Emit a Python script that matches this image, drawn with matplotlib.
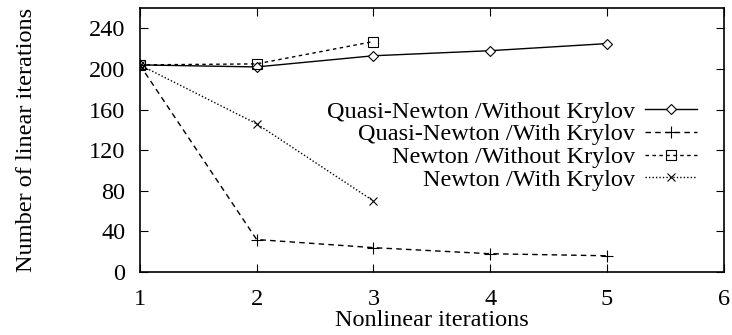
import matplotlib
matplotlib.use('Agg')
import matplotlib.pyplot as plt

plt.rcParams['font.family'] = ['Liberation Serif', 'DejaVu Serif']

iteracje = [1, 2, 3, 4, 5]
qn_bez = [204, 202, 213, 218, 225]
qn_z = [204, 32, 24, 18, 16]
n_bez = [204, 205, 227]
n_z = [204, 146, 70]

fs = 17.5

fig = plt.figure(figsize=(7.32, 3.35), dpi=100)
ax = fig.add_axes([0.191, 0.188, 0.798, 0.788])

ax.plot(iteracje, qn_bez, color='black', lw=1.0, ls='-', marker='D',
        mfc='white', mec='black', ms=5, mew=0.8,
        label='Quasi-Newton /Without Krylov')
ax.plot(iteracje, qn_z, color='black', lw=1.0, ls=(0, (4, 3)), marker='+',
        ms=8, mew=0.8, label='Quasi-Newton /With Krylov')
ax.plot(iteracje[:3], n_bez, color='black', lw=1.0, ls=(0, (2.5, 2.5)),
        marker='s', mfc='none', mec='black', ms=7, mew=0.8,
        label='Newton /Without Krylov')
ax.plot(iteracje[:3], n_z, color='black', lw=1.0, ls=(0, (1, 1.5)),
        marker='x', ms=6, mew=0.8, label='Newton /With Krylov')

ax.set_xlim(1, 6)
ax.set_ylim(0, 260)
ax.set_xticks([1, 2, 3, 4, 5, 6])
ax.set_yticks([0, 40, 80, 120, 160, 200, 240])
ax.tick_params(direction='in', top=True, right=True, labelsize=fs,
               length=6, width=0.8)
ax.tick_params(axis='x', pad=12)
ax.tick_params(axis='y', pad=10.5)
for s in ax.spines.values():
    s.set_linewidth(1.2)

ax.set_xlabel('Nonlinear iterations', fontsize=fs, labelpad=0)
ax.set_ylabel('Number of linear iterations', fontsize=fs, labelpad=37.5)

leg = ax.legend(loc='upper right', bbox_to_anchor=(0.975, 0.695),
                frameon=False, markerfirst=False, fontsize=fs,
                handlelength=2.15, handletextpad=0.4, labelspacing=0.03,
                borderpad=0)
for t in leg.get_texts():
    t.set_ha('right')

fig.savefig('out.png', dpi=100)
